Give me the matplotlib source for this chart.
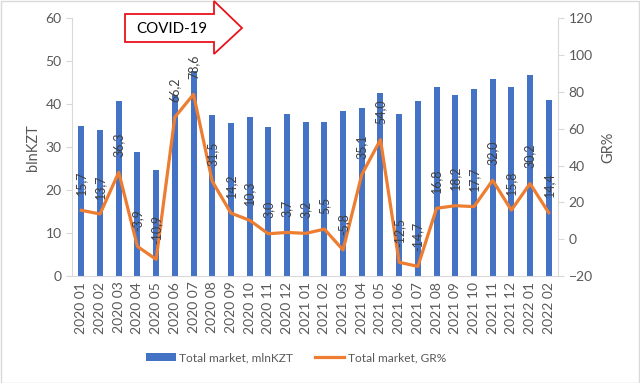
import matplotlib
matplotlib.use("Agg")
import matplotlib.pyplot as plt
from matplotlib.patches import Polygon, Rectangle

months = ["2020 01", "2020 02", "2020 03", "2020 04", "2020 05", "2020 06",
          "2020 07", "2020 08", "2020 09", "2020 10", "2020 11", "2020 12",
          "2021 01", "2021 02", "2021 03", "2021 04", "2021 05", "2021 06",
          "2021 07", "2021 08", "2021 09", "2021 10", "2021 11", "2021 12",
          "2022 01", "2022 02"]
market = [34.9, 34.0, 40.8, 28.9, 24.6, 42.0, 47.7, 37.4, 35.7, 36.9, 34.7, 37.8,
          35.9, 35.8, 38.4, 39.1, 42.5, 37.8, 40.6, 43.9, 42.2, 43.4, 45.8, 43.9,
          46.7, 41.0]
growth = [15.7, 13.7, 36.3, -3.9, -10.9, 66.2, 78.6, 31.5, 14.2, 10.3, 3.0, 3.7,
          3.2, 5.5, -5.8, 35.1, 54.0, -12.5, -14.7, 16.8, 18.2, 17.7, 32.0, 15.8,
          30.2, 14.4]

BLUE = "#4472C4"
ORANGE = "#ED7D31"
GREY = "#595959"
AXC = "#D9D9D9"

plt.rcParams["font.family"] = ["Lato", "DejaVu Sans"]

fig = plt.figure(figsize=(6.4, 3.83), dpi=100)
ax = fig.add_axes([0.1125, 0.279, 0.872 - 0.1125, 0.953 - 0.279])
ax2 = ax.twinx()

x = list(range(len(months)))
ax.bar(x, market, width=0.32, color=BLUE, label="Total market, mlnKZT", zorder=2)
ax2.plot(x, growth, color=ORANGE, lw=2.3, label="Total market, GR%", zorder=3)
for xi, g in zip(x, growth):
    ax2.annotate(f"{g:.1f}".replace(".", ","), (xi, g), xytext=(0, 11),
                 textcoords="offset points", rotation=90, ha="center", va="bottom",
                 fontsize=9, color="#404040", zorder=4)

ax.set_xlim(-0.5, len(months) - 0.5)
ax.set_ylim(0, 60)
ax.set_yticks(range(0, 61, 10))
ax2.set_ylim(-20, 120)
ax2.set_yticks(range(-20, 121, 20))
ax.set_xticks(x)
ax.set_xticklabels(months, rotation=90)

for a in (ax, ax2):
    for s in a.spines.values():
        s.set_visible(False)
    a.tick_params(colors=AXC, labelcolor=GREY, labelsize=10, length=4)
ax.spines["left"].set_visible(True)
ax.spines["left"].set_color(AXC)
ax.spines["bottom"].set_visible(True)
ax.spines["bottom"].set_color(AXC)
ax2.spines["right"].set_visible(True)
ax2.spines["right"].set_color(AXC)
ax.tick_params(axis="x", length=0, labelsize=10, pad=4)

ax.set_ylabel("blnKZT", color=GREY, fontsize=10.5, labelpad=4)
ax2.set_ylabel("GR%", color=GREY, fontsize=10.5, labelpad=6)

h1, l1 = ax.get_legend_handles_labels()
h2, l2 = ax2.get_legend_handles_labels()
fig.legend(h1 + h2, l1 + l2, loc="center", bbox_to_anchor=(0.4625, 0.066), ncol=2,
           frameon=False, fontsize=8.6, labelcolor=GREY, handlelength=2.5,
           handleheight=0.6, handletextpad=0.3, columnspacing=1.8)

# COVID-19 arrow (figure pixel coords)
W, H = 640, 383
pts = [(125, 14), (214, 14), (214, 1), (242, 28), (214, 54), (214, 42), (125, 42)]
arrow = Polygon([(px / W, 1 - py / H) for px, py in pts], closed=True,
                transform=fig.transFigure, facecolor="white", edgecolor="#E8141C",
                lw=1.3, zorder=10)
fig.patches.append(arrow)
fig.text(172 / W, 1 - 29 / H, "COVID-19", ha="center", va="center", fontsize=10.8,
         color="black", zorder=11)

fig.patches.append(Rectangle((0.001, 0.001), 0.997, 0.996, transform=fig.transFigure,
                             fill=False, edgecolor=AXC, lw=1.0))

fig.savefig("out.png", dpi=100)
